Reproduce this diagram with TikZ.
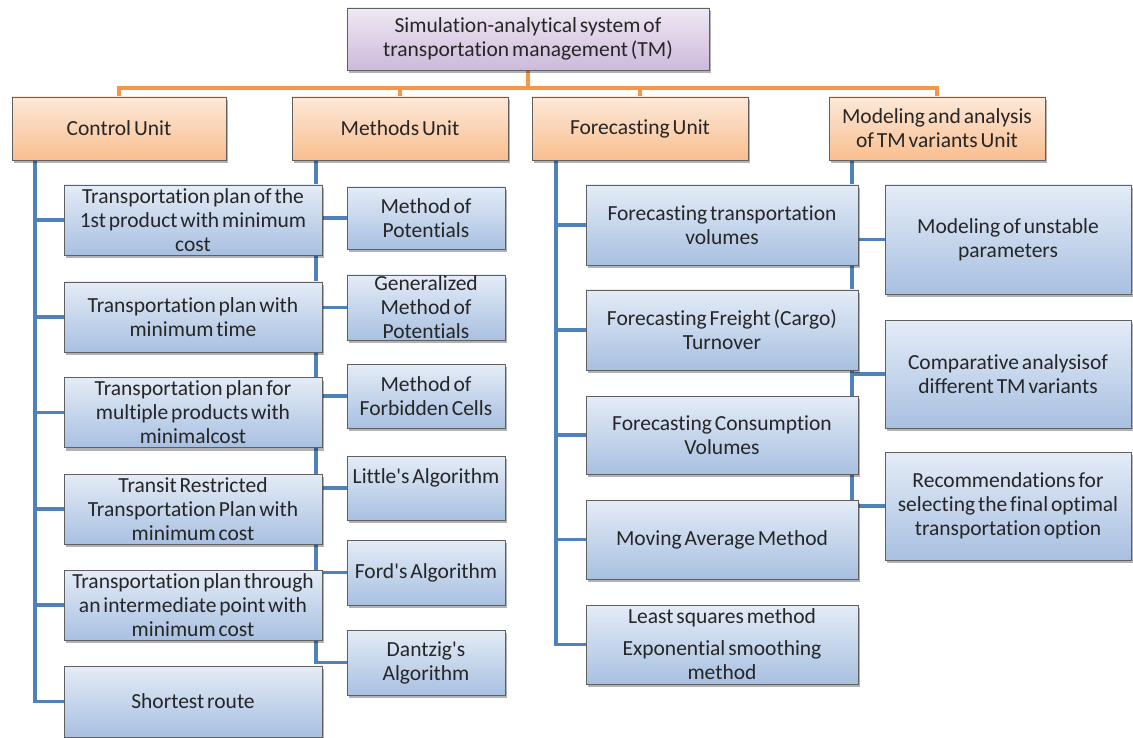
\documentclass[tikz,border=0pt]{standalone}
\usepackage{fontspec}
\setmainfont{Carlito}[Ligatures=NoCommon, WordSpace=0.6]
\usetikzlibrary{shadows,backgrounds}

\begin{document}
\begin{tikzpicture}[x=1pt,y=-1pt,
        caja/.style={draw=gray!75!black, line width=0.8pt, align=center, inner sep=0pt,
            font=\fontsize{21.5}{24}\selectfont, text=black!85,
            drop shadow={shadow xshift=2pt, shadow yshift=-3pt, opacity=0.3, fill=black}},
        raiz/.style={caja, top color=rootTop, bottom color=rootBot},
        unidad/.style={caja, top color=unitTop, bottom color=unitBot},
        hoja/.style={caja, top color=leafTop, bottom color=leafBot},
        linnar/.style={draw=lineOrange, line width=3.5pt},
        linazul/.style={draw=lineBlue, line width=3.5pt}]
        % Definición de colores
        \definecolor{rootTop}{RGB}{240, 232, 244}
        \definecolor{rootBot}{RGB}{204, 186, 218}
        \definecolor{unitTop}{RGB}{253, 233, 217}
        \definecolor{unitBot}{RGB}{249, 190, 143}
        \definecolor{leafTop}{RGB}{228, 236, 247}
        \definecolor{leafBot}{RGB}{168, 192, 225}
        \definecolor{lineOrange}{RGB}{247, 150, 70}
        \definecolor{lineBlue}{RGB}{79, 129, 189}

        \useasboundingbox (0,0) rectangle (1133,738);

        % Raíz y unidades
        \node[raiz, minimum width=362, minimum height=62] (root) at (528,39)
            {Simulation-analytical system of\\transportation management  (TM)};
        \node[unidad, minimum width=214, minimum height=63] (ctrl) at (119,128.5) {Control Unit};
        \node[unidad, minimum width=216, minimum height=63] (meth) at (400,128.5) {Methods Unit};
        \node[unidad, minimum width=216, minimum height=63] (fore) at (640,128.5) {Forecasting Unit};
        \node[unidad, minimum width=216, minimum height=63] (model) at (937,128.5)
            {Modeling and analysis\\of TM variants Unit};

        % Bloque de control
        \node[hoja, minimum width=258, minimum height=70] (c1) at (193,220)
            {Transportation plan of the\\1st product with minimum\\cost};
        \node[hoja, minimum width=258, minimum height=70] (c2) at (193,317)
            {Transportation plan with\\minimum time};
        \node[hoja, minimum width=258, minimum height=70] (c3) at (193,412.5)
            {Transportation plan for\\multiple products with\\minimalcost};
        \node[hoja, minimum width=258, minimum height=70] (c4) at (193,509)
            {Transit Restricted\\Transportation Plan with\\minimum cost};
        \node[hoja, minimum width=258, minimum height=70] (c5) at (193,605)
            {Transportation plan through\\an intermediate point with\\minimum cost};
        \node[hoja, minimum width=258, minimum height=71] (c6) at (193,701.5)
            {Shortest route};

        % Bloque de métodos
        \node[hoja, minimum width=158, minimum height=62] (m1) at (426,218)
            {Method of\\Potentials};
        \node[hoja, minimum width=158, minimum height=65] (m2) at (426,307.5)
            {Generalized\\Method of\\Potentials};
        \node[hoja, minimum width=158, minimum height=64] (m3) at (426,396)
            {Method of\\Forbidden Cells};
        \node[hoja, minimum width=158, minimum height=64] (m4) at (426,488)
            {Little\textquotesingle s Algorithm\\\phantom{A}};
        \node[hoja, minimum width=158, minimum height=65] (m5) at (426,572.5)
            {Ford\textquotesingle s Algorithm};
        \node[hoja, minimum width=158, minimum height=65] (m6) at (426,662.5)
            {Dantzig\textquotesingle s\\Algorithm};

        % Bloque de pronóstico
        \node[hoja, minimum width=272, minimum height=80] (f1) at (722,225)
            {Forecasting transportation\\volumes};
        \node[hoja, minimum width=272, minimum height=80] (f2) at (722,330)
            {Forecasting Freight (Cargo)\\Turnover};
        \node[hoja, minimum width=272, minimum height=78] (f3) at (722,435)
            {Forecasting Consumption\\Volumes};
        \node[hoja, minimum width=272, minimum height=79] (f4) at (722,539.5)
            {Moving Average Method};
        \node[hoja, minimum width=272, minimum height=79] (f5) at (722,644.5)
            {Least squares method\\[8pt]Exponential smoothing\\method};

        % Bloque de modelado
        \node[hoja, minimum width=246, minimum height=109] (r1) at (1008,239.5)
            {Modeling of unstable\\parameters};
        \node[hoja, minimum width=246, minimum height=108] (r2) at (1008,374)
            {Comparative analysisof\\different TM variants};
        \node[hoja, minimum width=246, minimum height=108] (r3) at (1008,506)
            {Recommendations for\\selecting the final optimal\\transportation option};

        % Conectores (detrás de las cajas)
        \coordinate (bus) at (528,88);
        \coordinate (tCtrl) at (35,160);
        \coordinate (tMeth) at (316,160);
        \coordinate (tFore) at (556,160);
        \coordinate (tModel) at (852,160);
        \begin{scope}[on background layer]
            \foreach \u in {ctrl,meth,fore,model}
                \draw[linnar] (root.south) |- (bus) -| (\u.north);
            \foreach \h in {c1,c2,c3,c4,c5,c6}
                \draw[linazul] (tCtrl) |- (\h.west);
            \foreach \h in {m1,m2,m3,m4,m5,m6}
                \draw[linazul] (tMeth) |- (\h.west);
            \foreach \h in {f1,f2,f3,f4,f5}
                \draw[linazul] (tFore) |- (\h.west);
            \foreach \h in {r1,r2,r3}
                \draw[linazul] (tModel) |- (\h.west);
        \end{scope}

    \end{tikzpicture}
\end{document}
